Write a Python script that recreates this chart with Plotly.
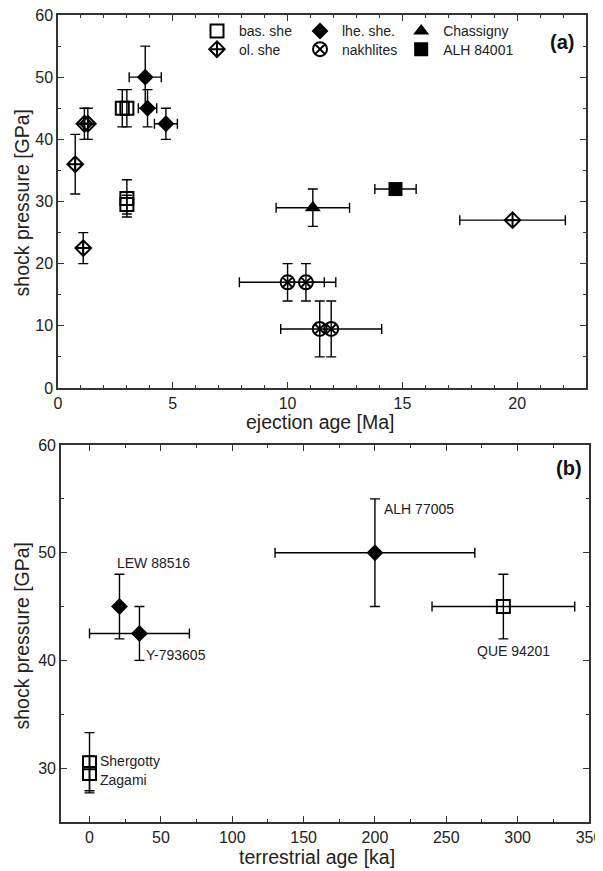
import plotly.graph_objects as go

# ---------------- Panel (a): ejection age vs shock pressure ----------------
bas_x = [2.8, 3.0, 3.0, 3.0]
bas_y = [45, 45, 30.5, 29.5]
bas_ey = [3, 3, 3, 1.5]

lhe_x = [3.8, 3.9, 4.7]
lhe_y = [50, 45, 42.5]
lhe_ex = [0.7, 0.4, 0.5]
lhe_ey = [5, 3, 2.5]

chas_x = [11.1]
chas_y = [29]
chas_ex = [1.6]
chas_ey = [3]

ol_x = [1.15, 1.3, 0.75, 1.1, 19.8]
ol_y = [42.5, 42.5, 36, 22.5, 27]
ol_ex = [None, None, None, None, 2.3]
ol_ey = [2.5, 2.5, 4.8, 2.5, None]

nak_x = [10.0, 10.8, 11.4, 11.9]
nak_y = [17, 17, 9.5, 9.5]
nak_ex = [2.1, 0.8, None, 2.2]
nak_ey = [3, 3, 4.5, 4.5]

alh84_x = [14.7]
alh84_y = [32]
alh84_ex = [0.9]

# ---------------- Panel (b): terrestrial age vs shock pressure ----------------
b_lhe_names = ["LEW 88516", "Y-793605", "ALH 77005"]
b_lhe_x = [21, 35, 200]
b_lhe_y = [45, 42.5, 50]
b_lhe_ex = [None, 35, 70]
b_lhe_ey = [3, 2.5, 5]

b_bas_names = ["QUE 94201", "Shergotty", "Zagami"]
b_bas_x = [290, 0, 0]
b_bas_y = [45, 30.5, 29.5]
b_bas_ex = [50, None, None]
b_bas_ey = [3, 2.8, 1.6]

# label positions (data coords) for panel b
lab_text = ["LEW 88516", "Y-793605", "ALH 77005", "QUE 94201", "Shergotty", "Zagami"]
lab_x = [18, 38, 205, 297, 6, 6]
lab_y = [49.0, 40.5, 54.1, 40.9, 30.7, 28.9]
lab_anchor = ["left", "left", "left", "center", "left", "left"]

FONT = "Liberation Sans, Arial, sans-serif"
INK = "#000000"
AX = "#333333"
TXT = "#222222"


def ebar(vals, width=5):
    if vals is None:
        return None
    return dict(type="data", array=vals, visible=True, color=INK, thickness=1.4, width=width)


fig = go.Figure()

open_line = dict(color=INK, width=2)

fig.add_trace(go.Scatter(x=bas_x, y=bas_y, mode="markers", name="bas. she", legend="legend",
                         marker=dict(symbol="square-open", size=13, color=INK, line=open_line),
                         error_y=ebar(bas_ey), xaxis="x", yaxis="y"))
fig.add_trace(go.Scatter(x=ol_x, y=ol_y, mode="markers", name="ol. she", legend="legend2",
                         marker=dict(symbol="diamond-cross-open", size=12, color=INK, line=open_line),
                         error_x=ebar(ol_ex), error_y=ebar(ol_ey), xaxis="x", yaxis="y"))
fig.add_trace(go.Scatter(x=lhe_x, y=lhe_y, mode="markers", name="lhe. she.", legend="legend3",
                         marker=dict(symbol="diamond", size=13, color=INK),
                         error_x=ebar(lhe_ex), error_y=ebar(lhe_ey), xaxis="x", yaxis="y"))
fig.add_trace(go.Scatter(x=nak_x, y=nak_y, mode="markers", name="nakhlites", legend="legend4",
                         marker=dict(symbol="circle-x-open", size=14, color=INK, line=open_line),
                         error_x=ebar(nak_ex), error_y=ebar(nak_ey), xaxis="x", yaxis="y"))
fig.add_trace(go.Scatter(x=chas_x, y=chas_y, mode="markers", name="Chassigny", legend="legend5",
                         marker=dict(symbol="triangle-up", size=14, color=INK),
                         error_x=ebar(chas_ex), error_y=ebar(chas_ey), xaxis="x", yaxis="y"))
fig.add_trace(go.Scatter(x=alh84_x, y=alh84_y, mode="markers", name="ALH 84001", legend="legend6",
                         marker=dict(symbol="square", size=14, color=INK),
                         error_x=ebar(alh84_ex), xaxis="x", yaxis="y"))

fig.add_trace(go.Scatter(x=b_lhe_x, y=b_lhe_y, mode="markers", showlegend=False, text=b_lhe_names,
                         marker=dict(symbol="diamond", size=13, color=INK),
                         error_x=ebar(b_lhe_ex), error_y=ebar(b_lhe_ey), xaxis="x2", yaxis="y2"))
fig.add_trace(go.Scatter(x=b_bas_x, y=b_bas_y, mode="markers", showlegend=False, text=b_bas_names,
                         marker=dict(symbol="square-open", size=13, color=INK, line=open_line),
                         error_x=ebar(b_bas_ex), error_y=ebar(b_bas_ey), xaxis="x2", yaxis="y2"))

axis_common = dict(showline=True, linecolor=AX, linewidth=1.5, mirror="allticks",
                   ticks="inside", ticklen=6, tickwidth=1.3, tickcolor=AX,
                   showgrid=False, zeroline=False, automargin=False, ticklabeloverflow="allow",
                   tickfont=dict(family=FONT, size=16, color=TXT))


def leg(x, y):
    return dict(orientation="v", x=x, y=y, xanchor="left", yanchor="top", itemwidth=34,
                bgcolor="rgba(0,0,0,0)", font=dict(family=FONT, size=14, color=TXT),
                itemclick=False, itemdoubleclick=False, tracegroupgap=0)


COLS = [0.258, 0.452, 0.6425]
ROWS = [0.9995, 0.977]

# The page body adds an 8 px offset, so the figure is 8 px smaller and margins shifted
fig.update_layout(
    width=595, height=863,
    margin=dict(l=50, r=14, t=7, b=49, autoexpand=False),
    paper_bgcolor="white", plot_bgcolor="white",
    font=dict(family=FONT, color=TXT),
    xaxis=dict(domain=[0, 0.9944], range=[0, 23], tickvals=[0, 5, 10, 15, 20],
               minor=dict(dtick=1, ticks="inside", ticklen=3.5, tickcolor=AX, tickwidth=1.1),
               anchor="y", **axis_common),
    yaxis=dict(domain=[0.5378, 1], range=[0, 60], tickvals=[0, 10, 20, 30, 40, 50, 60],
               minor=dict(dtick=5, ticks="inside", ticklen=3.5, tickcolor=AX, tickwidth=1.1),
               anchor="x", **axis_common),
    xaxis2=dict(domain=[0.0056, 1], range=[-20, 350], tickvals=[0, 50, 100, 150, 200, 250, 300, 350],
                minor=dict(dtick=25, tick0=0, ticks="inside", ticklen=3.5, tickcolor=AX, tickwidth=1.1),
                anchor="y2", **axis_common),
    yaxis2=dict(domain=[0, 0.4672], range=[25, 60], tickvals=[30, 40, 50, 60],
                minor=dict(dtick=5, tick0=0, ticks="inside", ticklen=3.5, tickcolor=AX, tickwidth=1.1),
                anchor="x2", **axis_common),
    legend=leg(COLS[0], ROWS[0]),
    legend2=leg(COLS[0], ROWS[1]),
    legend3=leg(COLS[1], ROWS[0]),
    legend4=leg(COLS[1], ROWS[1]),
    legend5=leg(COLS[2], ROWS[0]),
    legend6=leg(COLS[2], ROWS[1]),
    showlegend=True,
)

TF = dict(family=FONT, size=19.5, color=TXT)
annotations = [
    dict(text="<b>(a)</b>", x=0.976, y=0.9665, xref="paper", yref="paper", xanchor="right", yanchor="middle",
         showarrow=False, font=dict(family=FONT, size=20, color="#111111")),
    dict(text="<b>(b)</b>", x=0.991, y=0.4387, xref="paper", yref="paper", xanchor="right", yanchor="middle",
         showarrow=False, font=dict(family=FONT, size=20, color="#111111")),
    dict(text="ejection age [Ma]", x=0.495, y=0.4957, xref="paper", yref="paper",
         xanchor="center", yanchor="middle", showarrow=False, font=TF),
    dict(text="terrestrial age [ka]", x=0.488, y=-0.0434, xref="paper", yref="paper",
         xanchor="center", yanchor="middle", showarrow=False, font=TF),
    dict(text="shock pressure [GPa]", x=-0.0669, y=0.7683, xref="paper", yref="paper", textangle=-90,
         xanchor="center", yanchor="middle", showarrow=False, font=TF),
    dict(text="shock pressure [GPa]", x=-0.0669, y=0.2317, xref="paper", yref="paper", textangle=-90,
         xanchor="center", yanchor="middle", showarrow=False, font=TF),
]
for t, xx, yy, a in zip(lab_text, lab_x, lab_y, lab_anchor):
    annotations.append(dict(text=t, x=xx, y=yy, xref="x2", yref="y2", xanchor=a, yanchor="middle",
                            showarrow=False, font=dict(family=FONT, size=14, color=TXT)))
fig.update_layout(annotations=annotations)

fig.write_html("out.html")
